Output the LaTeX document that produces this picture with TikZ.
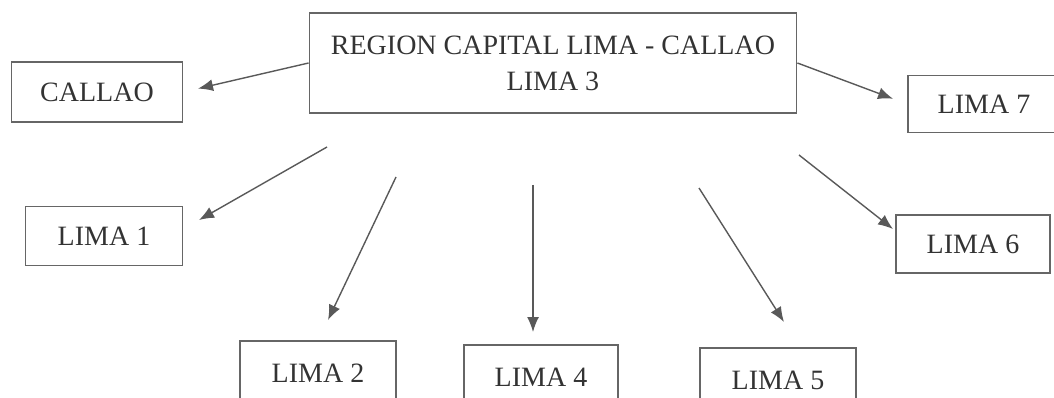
\documentclass[tikz,border=0pt]{standalone}
\usepackage{fontspec}
\setmainfont{Liberation Serif}
\usetikzlibrary{arrows.meta}
\tikzset{
	caja/.style={draw=black!60, line width=1.8pt, text=black!80, font=\fontsize{28}{36}\selectfont, inner sep=0pt, align=center},
	flecha/.style={draw=black!65, line width=1.4pt, -{Latex[length=15pt,width=12pt]}}
}
\begin{document}
\begin{tikzpicture}[x=1pt, y=-1pt]
		%%%%% START %%%%%
		\useasboundingbox (0,0) rectangle (1054,398);
		\clip (0,0) rectangle (1054,398);
		
		\node[caja, minimum width=487pt, minimum height=100pt] (region) at (553,63) {REGION CAPITAL LIMA - CALLAO\\LIMA 3};
		
		\node[caja, minimum width=171pt, minimum height=60pt] (callao) at (97,92) {CALLAO};
		\node[caja, minimum width=152pt, minimum height=57pt] (lima7) at (984,104) {LIMA 7};
		\node[caja, minimum width=157pt, minimum height=59pt] (lima1) at (104,236) {LIMA 1};
		\node[caja, minimum width=154pt, minimum height=58pt] (lima6) at (973,244) {LIMA 6};
		
		\node[caja, minimum width=156pt, minimum height=64pt] (lima2) at (318,373) {LIMA 2};
		\node[caja, minimum width=154pt, minimum height=64pt] (lima4) at (541,377) {LIMA 4};
		\node[caja, minimum width=156pt, minimum height=64pt] (lima5) at (778,380) {LIMA 5};
		
		\draw[flecha, shorten >=15pt] (region.west) -- (callao.east);
		\draw[flecha, shorten >=15pt] (region.east) -- (lima7.west);
		
		\coordinate (a1) at (327,147); \coordinate (b1) at (199,220);
		\coordinate (a2) at (396,177); \coordinate (b2) at (328,320);
		\coordinate (a4) at (533,185); \coordinate (b4) at (533,332);
		\coordinate (a5) at (699,188); \coordinate (b5) at (784,322);
		\coordinate (a6) at (799,155); \coordinate (b6) at (893,229);
		
		\foreach \i in {1,2,4,5,6}
			\draw[flecha] (a\i) -- (b\i);
		
		%%%%% END %%%%%
\end{tikzpicture}
\end{document}
